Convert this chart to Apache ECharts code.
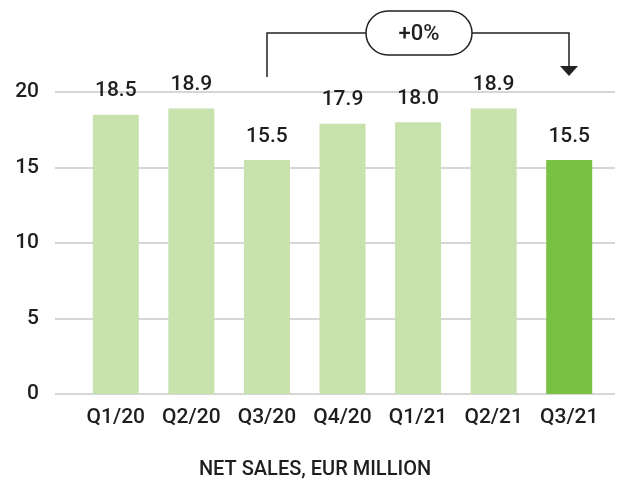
<!DOCTYPE html>
<html>
<head>
<meta charset="utf-8">
<script src="https://cdn.jsdelivr.net/npm/echarts@6/dist/echarts.min.js"></script>
<style>
  html, body { margin: 0; padding: 0; background: #fff; }
  #chart { width: 630px; height: 479px; }
</style>
</head>
<body>
<div id="chart"></div>
<script>
const quarters = ['Q1/20', 'Q2/20', 'Q3/20', 'Q4/20', 'Q1/21', 'Q2/21', 'Q3/21']
const netSales = [18.5, 18.9, 15.5, 17.9, 18.0, 18.9, 15.5]
const yTicks = [0, 5, 10, 15, 20]
const changeLabel = '+0%'

const font = 'Roboto, sans-serif'
const textColor = '#1e1e1e'

const chart = echarts.init(document.getElementById('chart'))

const barData = netSales.map((v, i) => ({
  value: v,
  itemStyle: { color: i === netSales.length - 1 ? '#78c142' : '#c8e2ae' }
}))

chart.setOption({
  backgroundColor: '#fff',
  animation: false,
  title: {
    text: 'NET SALES, EUR MILLION',
    left: 'center',
    top: 455,
    textStyle: { fontFamily: font, fontSize: 20, fontWeight: 500, color: textColor }
  },
  grid: [
    { left: 55, right: 15, top: 92, bottom: 85 },
    { left: 78, right: 23, top: 92, bottom: 85 }
  ],
  xAxis: [
    { gridIndex: 0, type: 'category', data: quarters, show: false },
    {
      gridIndex: 1,
      type: 'category',
      data: quarters,
      axisLine: { show: false },
      axisTick: { show: false },
      axisLabel: { interval: 0, fontFamily: font, fontSize: 21, fontWeight: 500, color: textColor, margin: 13 }
    }
  ],
  yAxis: [
    {
      gridIndex: 0,
      type: 'value',
      min: yTicks[0],
      max: yTicks[yTicks.length - 1],
      interval: 5,
      axisLine: { show: false },
      axisTick: { show: false },
      axisLabel: { fontFamily: font, fontSize: 21, fontWeight: 500, color: textColor, margin: 16 },
      splitLine: { lineStyle: { color: '#c8c8c8', width: 1.5 } }
    },
    {
      gridIndex: 1,
      type: 'value',
      min: yTicks[0],
      max: yTicks[yTicks.length - 1],
      interval: 5,
      show: false,
      splitLine: { show: false }
    }
  ],
  series: [{
    type: 'bar',
    xAxisIndex: 1,
    yAxisIndex: 1,
    data: barData,
    barWidth: 46,
    label: {
      show: true,
      position: 'top',
      distance: 13,
      fontFamily: font,
      fontSize: 21,
      fontWeight: 500,
      color: textColor,
      formatter: p => p.value.toFixed(1)
    }
  }]
})

// bracket annotation from Q3/20 to Q3/21, positioned through the axes
const from = chart.convertToPixel({ xAxisIndex: 1, yAxisIndex: 1 }, [2, 0])
const to = chart.convertToPixel({ xAxisIndex: 1, yAxisIndex: 1 }, [6, 0])
const x1 = Math.round(from[0])
const x2 = Math.round(to[0])
const yTop = 33
const midX = (x1 + x2) / 2 + 1
const pillW = 106
const pillH = 44

chart.setOption({
  graphic: [
    {
      type: 'polyline',
      shape: { points: [[x1, 77], [x1, yTop], [x2, yTop], [x2, 68]] },
      style: { stroke: '#222', lineWidth: 1.5, fill: null }
    },
    {
      type: 'polygon',
      shape: { points: [[x2 - 9, 66], [x2 + 9, 66], [x2, 76]] },
      style: { fill: '#222' }
    },
    {
      type: 'rect',
      shape: { x: midX - pillW / 2, y: yTop - pillH / 2, width: pillW, height: pillH, r: 22 },
      style: { fill: '#fff', stroke: '#222', lineWidth: 1.5 }
    },
    {
      type: 'text',
      x: midX,
      y: yTop + 1,
      style: {
        text: changeLabel,
        font: '500 22px Roboto, sans-serif',
        fill: textColor,
        align: 'center',
        verticalAlign: 'middle'
      }
    }
  ]
})
</script>
</body>
</html>
